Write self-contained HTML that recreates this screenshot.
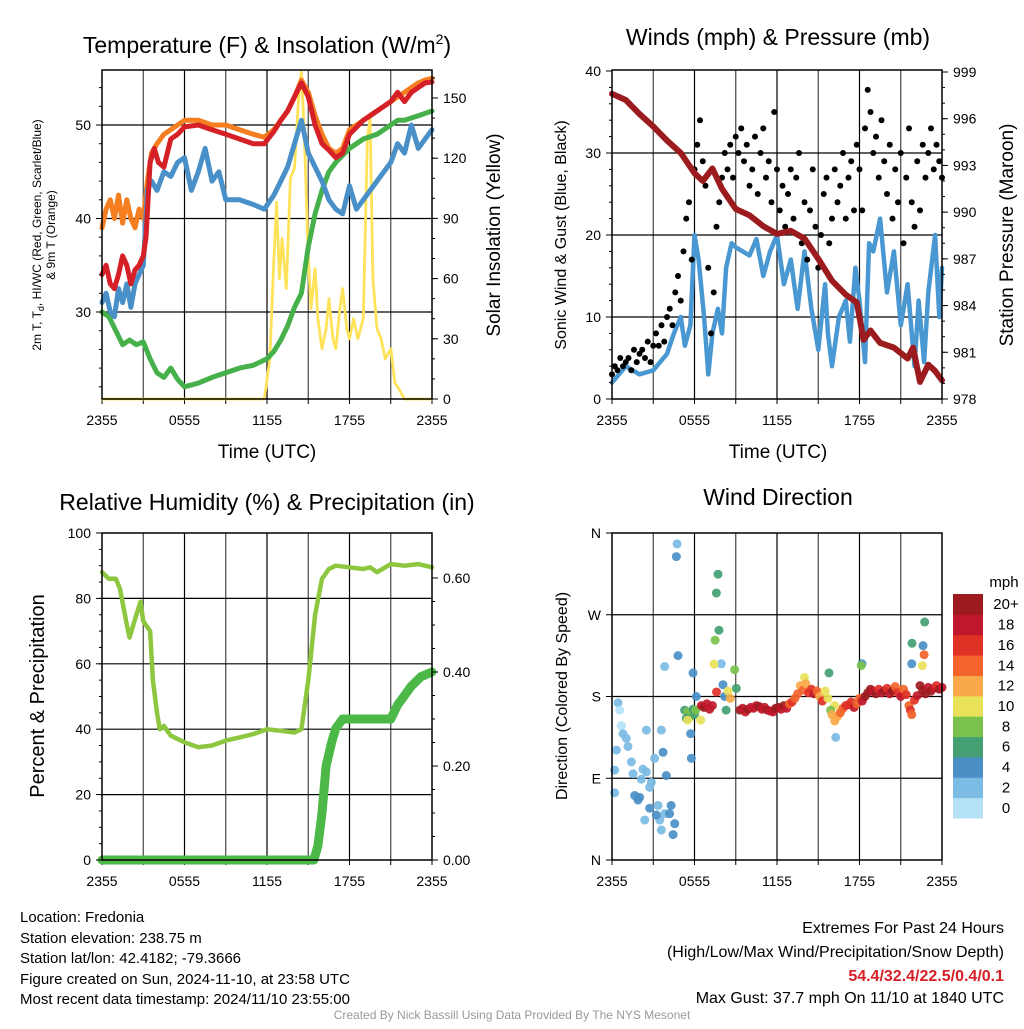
<!DOCTYPE html>
<html><head><meta charset="utf-8"><style>
body{margin:0;background:#fff}
svg text{font-family:"Liberation Sans",Arial,sans-serif;fill:#000}
</style></head><body>
<svg id="c" width="1024" height="1024" viewBox="0 0 1024 1024" xmlns="http://www.w3.org/2000/svg">
<g id="g"></g>
<text x="267" y="53" font-size="23" text-anchor="middle">Temperature (F) &amp; Insolation (W/m<tspan font-size="14" dy="-9">2</tspan><tspan dy="9">)</tspan></text>
<text transform="translate(41,235) rotate(-90)" font-size="12" text-anchor="middle">2m T, T<tspan font-size="9" dy="3">d</tspan><tspan dy="-3">, HI/WC (Red, Green, Scarlet/Blue)</tspan></text>
<text transform="translate(55,235) rotate(-90)" font-size="12" text-anchor="middle">&amp; 9m T (Orange)</text>
<text transform="translate(500,235) rotate(-90)" font-size="19" text-anchor="middle">Solar Insolation (Yellow)</text>
<text x="267" y="458" font-size="19" text-anchor="middle">Time (UTC)</text>
<text x="778" y="45" font-size="23" text-anchor="middle">Winds (mph) &amp; Pressure (mb)</text>
<text transform="translate(566,235) rotate(-90)" font-size="16" text-anchor="middle">Sonic Wind &amp; Gust (Blue, Black)</text>
<text transform="translate(1013,235) rotate(-90)" font-size="19" text-anchor="middle">Station Pressure (Maroon)</text>
<text x="778" y="458" font-size="19" text-anchor="middle">Time (UTC)</text>
<text x="267" y="510" font-size="23" text-anchor="middle">Relative Humidity (%) &amp; Precipitation (in)</text>
<text transform="translate(44,696) rotate(-90)" font-size="20" text-anchor="middle">Percent &amp; Precipitation</text>
<text x="778" y="505" font-size="23" text-anchor="middle">Wind Direction</text>
<text transform="translate(567,696) rotate(-90)" font-size="16" text-anchor="middle">Direction (Colored By Speed)</text>
<text x="1004" y="587" font-size="15" text-anchor="middle">mph</text>
<g font-size="15">
<text x="20" y="922">Location: Fredonia</text>
<text x="20" y="943">Station elevation: 238.75 m</text>
<text x="20" y="963">Station lat/lon: 42.4182; -79.3666</text>
<text x="20" y="984">Figure created on Sun, 2024-11-10, at 23:58 UTC</text>
<text x="20" y="1004">Most recent data timestamp: 2024/11/10 23:55:00</text>
</g>
<g font-size="16" text-anchor="end">
<text x="1004" y="933">Extremes For Past 24 Hours</text>
<text x="1004" y="957">(High/Low/Max Wind/Precipitation/Snow Depth)</text>
<text x="1004" y="981" font-weight="bold" style="fill:#d62027">54.4/32.4/22.5/0.4/0.1</text>
<text x="1004" y="1003">Max Gust: 37.7 mph On 11/10 at 1840 UTC</text>
</g>
<text x="512" y="1019" font-size="12" text-anchor="middle" style="fill:#999">Created By Nick Bassill Using Data Provided By The NYS Mesonet</text>
</svg>
<script>
// ---- data ----
const xTickLabels=["2355","0555","1155","1755","2355"];
const orangeT=[0,0.3,0.6,0.9,1.2,1.5,1.8,2.1,2.4,2.7,3.0,3.3,3.6,4,4.5,5,5.5,6,7,8,9,10,11,11.8,12.5,13,13.5,14,14.5,15,15.5,16,16.5,17,17.5,18,19,20,21,21.5,22,22.5,23,23.5,24];
const orangeV=[39,41,42,40,42.5,39.5,42,40,39,41,40,44,47,48,49,49.5,50,50.5,50.5,50,50,49.5,49,48.7,49.5,50.5,51.5,53,54.8,53.5,51,49,47.5,47,47.5,49.5,50.5,51.5,52.5,53,53.5,54,54.5,54.8,55];
const redT=[0,0.3,0.6,0.9,1.2,1.5,1.8,2.1,2.4,2.7,3.0,3.2,3.5,3.8,4.1,4.5,5,5.5,6,7,8,9,10,11,11.8,12.5,13,13.5,14,14.5,15,15.5,16,16.5,17,17.5,18,19,20,21,21.5,22,22.5,23,23.5,24];
const redV=[34,35,33,32.5,34,36,35,33,34.5,35,36,38,46,47.5,46,45.5,48.5,49,49.8,50,49.5,49,48.5,48,48,49.3,50.5,51.5,53,54.5,53,50,48,47.3,46.5,47,49,50.5,51.5,52.5,53.5,52.5,53.5,54,54.5,54.6];
const blueT=[0,0.3,0.6,0.9,1.2,1.5,1.8,2.1,2.4,2.7,3.0,3.3,3.6,4,4.5,5,5.5,6,6.5,7,7.5,8,8.5,9,10,11,11.8,12.5,13,13.5,14,14.5,15,15.5,16,16.5,17,17.5,18,18.5,19,20,21,21.5,22,22.5,23,23.5,24];
const blueV=[31,32,30,29.5,32.5,31,33,30.5,33,34,35,43,44,43,45,44.5,46,46.5,43,45,47.5,44,45,42,42,41.5,41,42.5,44,45.5,48,50.5,47,45.5,44,42,41,40.5,43.5,41,42,44,46,48,47,50,47.5,48.5,49.5];
const greenT=[0,0.5,1,1.5,2,2.5,3,3.5,4,4.5,5,5.5,6,7,8,9,10,11,12,12.5,13,13.5,14,14.5,15,15.5,16,16.5,17,18,19,20,21,21.5,22,23,24];
const greenV=[30,29.5,28,26.5,27,26.5,26.8,25,23.5,23,24,22.8,22,22.4,23,23.5,24,24.3,25,25.8,27,28.5,30.5,32,37,40.5,43,45,46,47.5,48.5,49,50,50.5,50.5,51,51.5];
const solarT=[0,11.8,12.2,12.5,12.7,12.9,13.1,13.4,13.7,14,14.3,14.5,14.7,15,15.2,15.5,15.7,16,16.3,16.5,16.8,17,17.3,17.5,17.8,18,18.3,18.6,19,19.3,19.5,19.7,20,20.3,20.6,21,21.3,21.6,22,24];
const solarV=[0,0,20,70,98,60,80,55,110,115,150,163,135,70,45,65,40,25,35,50,30,25,45,55,35,30,40,30,40,130,140,60,35,30,20,25,8,5,0,0];
const presT=[0,1,2,3,4,5,6,6.6,7.3,8,9,10,11,12,13,14,15,16,17,17.8,18.3,18.8,19.5,20.5,21.5,21.9,22.4,23,23.5,24];
const presV=[997.6,997.2,996.3,995.5,994.6,993.8,992.5,992.0,992.8,991.5,990.2,989.8,989.1,988.6,988.8,988.3,987.0,985.6,984.7,984.2,981.8,982.4,981.6,981.3,980.6,981.3,979.1,980.2,979.8,979.2];
const windT=[0,1,2,3,3.5,4,4.5,5,5.3,5.7,6,6.3,6.7,7,7.3,7.7,8,8.3,8.7,9,10,10.5,11,11.5,12,12.5,13,13.5,14,14.5,15,15.5,15.7,16,16.5,17,17.3,17.7,18,18.4,18.7,19,19.5,20,20.5,21,21.5,22,22.3,22.7,23,23.5,23.8,24];
const windV=[2,4,3,3.5,4.5,5.5,8,10,6.5,9,20,17,10,3,8,11,8,16,19,18.5,17.5,19.5,15,18,20,14,17,11,18,11,6,14,8,4,10,12,7,16,12,4.5,19,18,22,13,18,9,14,4,12,4.5,13,20,10,16];
const gustV=[3,4,3.5,5,4,4.5,5,3.5,6,4.5,5.5,6,5,7,4.5,6.5,8,6.5,9,7,10,11,9,13,15,12,18,22,24,17,28,31,34,29,26,16,8,13,21,24,27,30,28,31,27,32,30,33,29,31,26,28,32,25,30,33,27,29,24,35,28,23,26,21,25,28,22,27,30,19,24,17,23,28,21,16,20,25,27,19,22,28,24,26,30,22,27,29,23,31,28,23,33,37.7,35,30,32,27,34,29,25,31,22,28,24,30,19,27,33,24,21,29,23,31,27,30,33,28,31,29,27];
const rhT=[0,0.5,1,1.3,1.8,2,2.5,2.8,3,3.5,3.7,4,4.2,4.5,5,6,7,8,9,10,11,12,13,14,14.5,15,15.5,16,16.5,17,18,19,19.5,20,21,22,23,24];
const rhV=[88,86,86,83,72,68,75,79,73,70,55,45,40,41,38,36,34.5,35,36.5,37.5,38.5,40,39.5,39,40,55,75,86,89,90,89.5,89,89.5,88,90.5,90,90.5,89.5];
const precipT=[0,15.4,15.7,16,16.3,16.7,17,17.5,21,21.5,22,22.5,23.2,24];
const precipV=[0,0,0.03,0.1,0.2,0.25,0.28,0.3,0.3,0.33,0.35,0.37,0.39,0.4];
const dirT=[0.44,0.56,0.68,0.8,1.04,1.16,0.32,1.41,0.19,1.53,2.13,2.25,2.5,2.74,2.86,2.38,3.35,3.47,3.59,3.1,2.5,3.59,0.19,3.83,7.95,3.83,4.73,16.27,
1.65,1.89,2.01,2.74,3.22,3.95,3.71,4.3,4.19,4.56,4.44,4.8,4.68,5.89,5.72,5.77,6.13,8.07,8.19,21.8,22.62,18.18,
7.71,7.59,7.78,21.82,22.74,15.78,8.3,9.04,7.5,8.92,18.13,5.28,5.5,5.7,5.9,6.0,5.4,6.1,
7.42,5.5,6.45,8.44,22.57,14.0,16.2,22.7,
6.5,6.7,6.9,7.1,7.3,7.6,8.6,9.3,9.5,9.7,9.9,10.1,10.3,10.5,10.7,10.9,11.1,11.3,11.5,11.7,11.9,12.1,12.3,12.5,12.7,12.9,13.1,13.3,13.5,13.7,13.9,14.1,14.3,14.5,14.7,14.9,15.1,15.3,15.5,15.7,15.9,16.0,16.2,16.4,16.6,16.8,17.0,17.2,17.4,17.6,17.8,18.0,18.2,18.4,18.6,18.8,19.0,19.2,19.4,19.6,19.8,20.0,20.2,20.4,20.6,20.8,21.0,21.2,21.4,21.6,21.7,21.8,22.0,22.2,22.4,22.6,22.8,23.0,23.2,23.4,23.6,23.8,24.0];
const dirDeg=[173,165,148,139,134,125,121,108,99,95,89,100,97,80,85.5,44,60,44,33,112,143,143,74,51,216,213,348,135,
71,66,69,57,49.6,93,118.6,60,51,40,28,225,334,206,139,112,180,193,180,216,236,216,
314.6,294,253,238.6,262,206,165,189,242,209.5,214,165,163,158,166,160,156,165,
215.6,154,154,186,214,201,170,226,
170,168,172,166,170,185,178,165,167,163,166,168,167,170,169,166,168,165,164,163,167,168,166,170,167,172,174,178,183,192,187,194,184,188,183,186,180,175,186,178,165,160,153,158,162,167,170,171,174,168,172,178,175,180,184,188,186,183,188,184,186,189,183,186,191,184,180,188,182,170,165,160,176,181,192,187,183,190,186,189,192,188,190];
const dirSpd=[2,1,1,2,2,2,2,2,2,2,2,2,2,2,2,2,2,2,2,2,2,2,2,2,2,2,2,2,
4,4,4,4,4,4,4,4,4,4,4,4,4,4,4,4,4,4,4,4,4,4,
6,6,6,6,6,6,6,6,8,8,8,7,8,8,7,6,6,8,
10,10,10,10,10,10,10,14,
19,20,18,19,18,16,12,20,18,19,20,18,19,18,20,19,18,20,19,18,20,21,19,20,18,15,16,14,15,12,14,13,17,16,18,15,12,16,11,10,9,13,13,12,14,15,16,17,16,18,15,14,18,20,21,20,18,21,17,19,20,16,18,21,15,17,19,14,17,15,16,14,17,18,20,21,20,19,20,18,17,20,18];
const speedBins=["0","2","4","6","8","10","12","14","16","18","20+"];
const speedColors=["#b5e2f7","#7bbbe4","#4a8fc6","#44a073","#7bc24c","#e8e159","#f9a94a","#f2642b","#e03127","#c0182a","#9b1b1e"];

// ---- drawing ----
const NS="http://www.w3.org/2000/svg";
const G=document.getElementById('g');
function mk(tag,at,parent){const e=document.createElementNS(NS,tag);for(const k in at)e.setAttribute(k,at[k]);(parent||G).appendChild(e);return e;}
function xs(x0,x1){return t=>x0+(x1-x0)*t/24;}
function lin(v0,y0,v1,y1){return v=>y0+(y1-y0)*(v-v0)/(v1-v0);}
function line(T,V,X,Y,color,w,name){
  const d=T.map((t,i)=>(i?'L':'M')+X(t).toFixed(1)+','+Y(V[i]).toFixed(1)).join('');
  const p=mk('path',{d:d,fill:'none',stroke:color,'stroke-width':w,'stroke-linejoin':'round','stroke-linecap':'round'});
  
  
}
function txt(x,y,s,anchor,size,name){const e=mk('text',{x:x,y:y,'font-size':size,'text-anchor':anchor});e.textContent=s;
  
  
  return e;}
function frame(x0,y0,x1,y1,hGrid,name){
  const X=xs(x0,x1);
  for(let h=3;h<24;h+=3){const l=mk('line',{x1:X(h),x2:X(h),y1:y0,y2:y1,stroke:h%6?'#444':'#000','stroke-width':1.2});
    
    }
  hGrid.forEach(y=>{const l=mk('line',{x1:x0,x2:x1,y1:y,y2:y,stroke:'#000','stroke-width':1.2});
    
    });
  for(let h=0;h<=24;h+=3){mk('line',{x1:X(h),x2:X(h),y1:y1,y2:y1+5,stroke:'#000'});}
  xTickLabels.forEach((s,i)=>txt(X(i*6),y1+26,s,'middle',14,'x-tick-label'));
}
function border(x0,y0,x1,y1,name){const r=mk('rect',{x:x0,y:y0,width:x1-x0,height:y1-y0,fill:'none',stroke:'#000','stroke-width':1.5});
  
  }
function yTicks(vals,Y,x,side,labels,name,minor){
  vals.forEach((v,i)=>{mk('line',{x1:x,x2:x+(side<0?-6:6),y1:Y(v),y2:Y(v),stroke:'#000'});
    txt(x+(side<0?-11:11),Y(v)+5,labels[i],side<0?'end':'start',14,name);});
  (minor||[]).forEach(v=>mk('line',{x1:x,x2:x+(side<0?-3:3),y1:Y(v),y2:Y(v),stroke:'#000'}));
}

// Panel 1
{const x0=102,x1=432,y0=70,y1=399,X=xs(x0,x1);
 const Y=lin(30,312,50,125), YS=lin(0,399,150,98);
 frame(x0,y0,x1,y1,[Y(30),Y(40),Y(50)]);
 line(solarT,solarV,X,YS,'#fde25a',2.8,'solar-line');
 line(greenT,greenV,X,Y,'#46b04a',5,'dewpoint-line');
 line(orangeT,orangeV,X,Y,'#f57f20',5,'temp-9m-line');
 line(blueT,blueV,X,Y,'#4a90c8',5,'heat-index-line');
 line(redT,redV,X,Y,'#d62027',5,'temp-2m-line');
 border(x0,y0,x1,y1,'temp-plot-area');
 const mn=[];for(let v=22;v<=54;v+=2)mn.push(v);
 yTicks([30,40,50],Y,x0,-1,["30","40","50"],'temp-y-tick',mn);
 const sm=[];for(let v=10;v<=160;v+=10)sm.push(v);
 yTicks([0,30,60,90,120,150],YS,x1,1,["0","30","60","90","120","150"],'solar-y-tick',sm);
}
// Panel 2
{const x0=612,x1=942,y0=70,y1=399,X=xs(x0,x1);
 const Y=lin(0,399,40,71), YP=lin(978,399,999,72);
 frame(x0,y0,x1,y1,[Y(10),Y(20),Y(30)]);
 line(windT,windV,X,Y,'#4a98d2',4.5,'sonic-wind-line');
 gustV.forEach((g,i)=>{const c=mk('circle',{cx:X(i*0.2),cy:Y(g),r:3,fill:'#000'});
   
   });
 line(presT,presV,X,YP,'#9b1b1e',6,'pressure-line');
 border(x0,y0,x1,y1,'wind-plot-area');
 const mn=[];for(let v=0;v<=40;v+=2)mn.push(v);
 yTicks([0,10,20,30,40],Y,x0,-1,["0","10","20","30","40"],'wind-y-tick',mn);
 const pm=[];for(let v=978;v<=999;v++)pm.push(v);
 yTicks([978,981,984,987,990,993,996,999],YP,x1,1,["978","981","984","987","990","993","996","999"],'pressure-y-tick',pm);
}
// Panel 3
{const x0=102,x1=432,y0=533,y1=860,X=xs(x0,x1);
 const Y=lin(0,860,100,533), YP=lin(0,860,0.6,578);
 frame(x0,y0,x1,y1,[Y(20),Y(40),Y(60),Y(80)]);
 line(rhT,rhV,X,Y,'#8dc63f',4.5,'rh-line');
 line(precipT,precipV,X,YP,'#4cb848',9,'precip-line');
 border(x0,y0,x1,y1,'rh-plot-area');
 const mn=[];for(let v=0;v<=100;v+=5)mn.push(v);
 yTicks([0,20,40,60,80,100],Y,x0,-1,["0","20","40","60","80","100"],'rh-y-tick',mn);
 const pm=[];for(let v=0;v<=0.64;v+=0.05)pm.push(v);
 yTicks([0,0.2,0.4,0.6],YP,x1,1,["0.00","0.20","0.40","0.60"],'precip-y-tick',pm);
}
// Panel 4
{const x0=612,x1=942,y0=533,y1=860,X=xs(x0,x1);
 const Y=lin(0,860,360,533);
 frame(x0,y0,x1,y1,[Y(90),Y(180),Y(270)]);
 dirT.forEach((t,i)=>{const b=Math.min(10,Math.max(0,Math.floor(dirSpd[i]/2)));
   const c=mk('circle',{cx:X(t),cy:Y(dirDeg[i]),r:4.5,fill:speedColors[b],'fill-opacity':0.92});
   
   });
 border(x0,y0,x1,y1,'wdir-plot-area');
 yTicks([0,90,180,270,360],Y,x0,-1,["N","E","S","W","N"],'wdir-y-tick');
 const bh=(818-594)/11;
 speedBins.forEach((s,i)=>{const y=818-(i+1)*bh;
   const r=mk('rect',{x:953,y:y,width:30,height:bh+0.5,fill:speedColors[i]});
   
   
   txt(1006,y+bh/2+5,s,'middle',15,'colorbar-label');});
}
</script>
</body></html>
